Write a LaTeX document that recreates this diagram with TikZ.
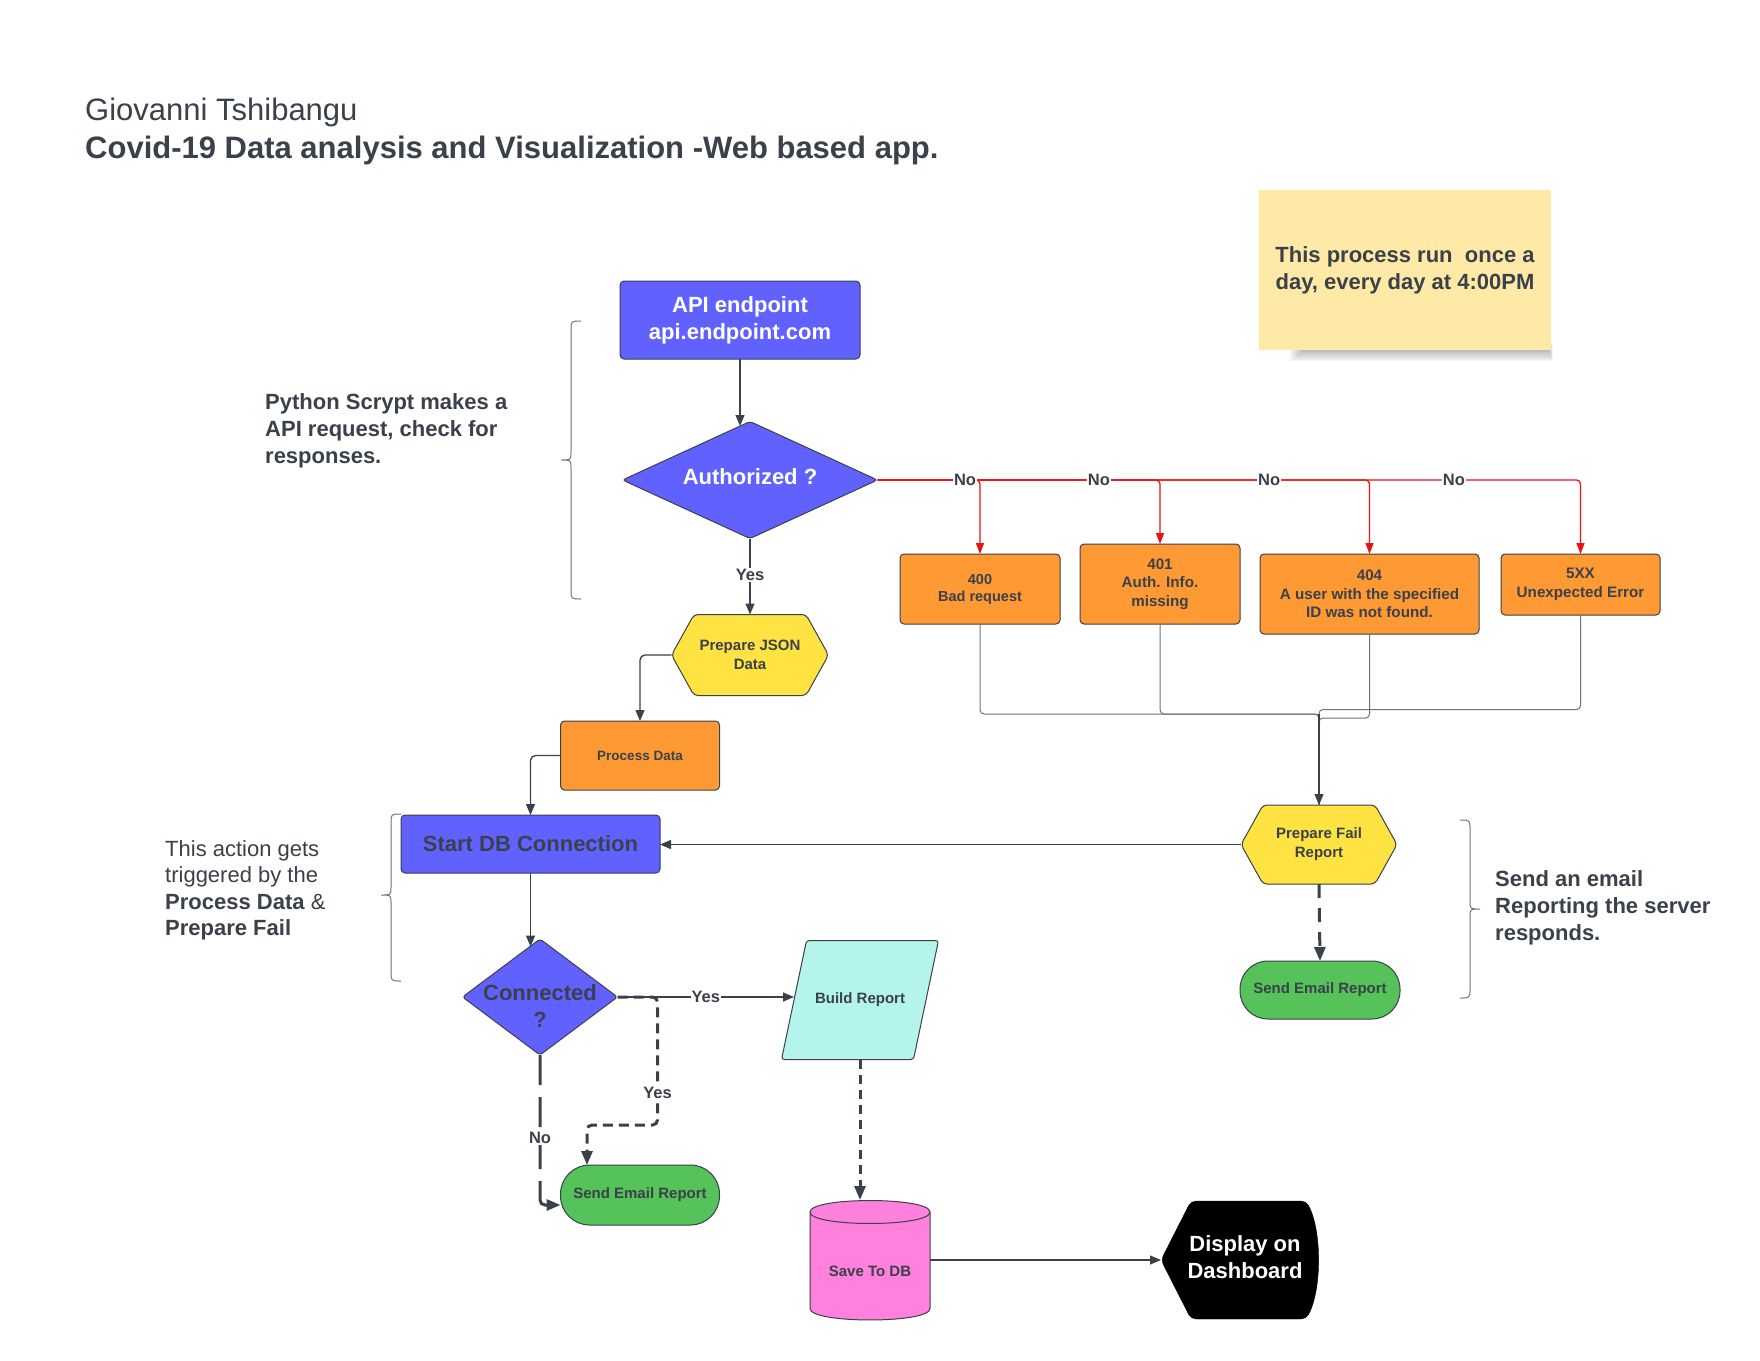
\documentclass[tikz,border=0pt]{standalone}
\usepackage{fontspec}
\setmainfont{Liberation Sans}
\usetikzlibrary{arrows.meta,shapes.geometric}
\definecolor{ink}{HTML}{3A414A}
\definecolor{wire}{HTML}{6E737B}
\definecolor{lucblue}{HTML}{6161FF}
\definecolor{lucorange}{HTML}{FF9933}
\definecolor{lucyellow}{HTML}{FFE342}
\definecolor{lucgreen}{HTML}{55C25A}
\definecolor{luccyan}{HTML}{B4F4EA}
\definecolor{lucpink}{HTML}{FF80DD}
\definecolor{notepaper}{HTML}{FEE9A6}
\definecolor{lucred}{HTML}{E81313}
\newcommand\fsz[2]{\fontsize{#1}{#2}\selectfont}

\begin{document}
\begin{tikzpicture}[x=1pt, y=-1pt,
  every node/.style={text=ink},
  plain/.style={inner sep=0pt, outer sep=0pt, align=center},
  box/.style={plain, draw=ink, line width=1pt, rounded corners=4pt},
  diam/.style={diamond, plain, draw=ink, line width=1pt, fill=lucblue, rounded corners=3pt},
  outline/.style={draw=ink, line width=1pt, rounded corners=4pt},
  tip/.style={-{Triangle[length=11pt,width=9pt]}},
  bigtip/.style={-{Triangle[length=14pt,width=11pt]}},
  conn/.style={draw=ink, line width=1.3pt, tip},
  wirel/.style={draw=wire, line width=1pt, rounded corners=4pt},
  redarr/.style={draw=lucred, line width=1.3pt, rounded corners=4pt, -{Triangle[length=11pt,width=8pt]}},
  thickdash/.style={draw=ink, line width=3pt, bigtip, rounded corners=5pt},
  lbl/.style={fill=white, inner sep=1pt, font=\bfseries\fsz{16.5}{19}},
  brace/.style={draw=wire, line width=1pt},
  big/.style={font=\bfseries\fsz{22}{27}},
  sidenote/.style={anchor=west, align=left, inner sep=0pt},
]
\fill[white] (0,0) rectangle (1760,1360);
\useasboundingbox (0,0) rectangle (1760,1360);

% ---------- heading ----------
\node[anchor=base west, inner sep=0pt, font=\fsz{31}{36}] (author) at (85,120) {Giovanni Tshibangu};
\node[anchor=base west, inner sep=0pt, font=\bfseries\fsz{31}{36}] (title) at (85,158) {Covid-19 Data analysis and Visualization -Web based app.};

% ---------- sticky note ----------
\foreach \k in {1,...,8}
  \fill[black, opacity=0.04] ({1288+2*\k},344) rectangle ({1553-0.5*\k},{363-1.6*\k});
\node[plain, fill=notepaper, minimum width=292pt, minimum height=160pt,
      font=\bfseries\fsz{22}{27}] (note) at (1405,270)
  {This process run\ \ once a\\day, every day at 4:00PM};

% ---------- shape outlines ----------
\filldraw[outline, fill=lucyellow] (671.5,655) -- (694,614.5) -- (806,614.5) -- (828.5,655) -- (806,695.5) -- (694,695.5) -- cycle;
\filldraw[outline, fill=lucyellow] (1241,844.5) -- (1263,805) -- (1375,805) -- (1397,844.5) -- (1375,884) -- (1263,884) -- cycle;
\filldraw[outline, rounded corners=3pt, fill=luccyan] (806.5,940.5) -- (938.5,940.5) -- (913.5,1059.5) -- (781.5,1059.5) -- cycle;
\filldraw[draw=ink, line width=1pt, fill=lucpink] (810,1212) -- (810,1308.5)
  .. controls (810,1323.8) and (930,1323.8) .. (930,1308.5) -- (930,1212)
  .. controls (930,1196.7) and (810,1196.7) .. (810,1212) -- cycle;
\draw[ink, line width=1pt] (810,1212) .. controls (810,1227.3) and (930,1227.3) .. (930,1212);
\filldraw[draw=black, fill=black, rounded corners=5pt] (1161,1260) -- (1191,1201) -- (1306,1201)
  .. controls (1322,1230) and (1322,1290) .. (1306,1319) -- (1191,1319) -- cycle;

% ---------- nodes ----------
\node[box, fill=lucblue, text=white, minimum width=240pt, minimum height=78pt, big] (api) at (740,320) {API endpoint\\api.endpoint.com};
\node[diam, minimum width=255pt, minimum height=117pt] (auth) at (750,480) {};
\node[plain, text=white, big] (authtxt) at (750,477) {Authorized ?};
\node[plain, minimum width=157pt, minimum height=81pt, font=\bfseries\fsz{15}{19}] (pj) at (750,655) {Prepare JSON\\Data};
\node[box, fill=lucorange, minimum width=159pt, minimum height=69pt, font=\bfseries\fsz{13.5}{17}] (pd) at (640,755.5) {Process Data};
\node[box, fill=lucblue, minimum width=259pt, minimum height=58pt, big] (sdb) at (530.5,844) {Start DB Connection};
\node[diam, minimum width=155pt, minimum height=116pt] (conn) at (540,997) {};
\node[plain, font=\bfseries\fsz{22}{26.5}] (conntxt) at (540,1006) {Connected\\?};
\node[plain, minimum width=132pt, minimum height=119pt, font=\bfseries\fsz{15}{18}] (br) at (860,1000) {Build Report};
\node[box, fill=lucgreen, rounded corners=29pt, minimum width=159pt, minimum height=60pt, font=\bfseries\fsz{15}{18}] (se1) at (640,1195) {Send Email Report};
\node[plain, minimum width=120pt, minimum height=120pt] (db) at (870,1260) {};
\node[plain, font=\bfseries\fsz{15}{18}] (dbtxt) at (870,1271) {Save To DB};
\node[plain, minimum width=158pt, minimum height=118pt] (disp) at (1240,1260) {};
\node[plain, text=white, big] (disptxt) at (1245,1257) {Display on\\Dashboard};

\node[box, fill=lucorange, minimum width=160pt, minimum height=70pt, font=\bfseries\fsz{14.5}{17}] (e400) at (980,589) {400\\Bad request};
\node[box, fill=lucorange, minimum width=160pt, minimum height=80pt, font=\bfseries\fsz{15.2}{18.5}] (e401) at (1160,584) {401\\Auth. Info.\\missing};
\node[box, fill=lucorange, minimum width=219pt, minimum height=80pt, font=\bfseries\fsz{15.2}{18.5}] (e404) at (1369.5,594) {404\\A user with the specified\\ID was not found.};
\node[box, fill=lucorange, minimum width=159pt, minimum height=61pt, font=\bfseries\fsz{15.2}{18.5}] (e5xx) at (1580.5,584.5) {5XX\\Unexpected Error};

\node[plain, minimum width=156pt, minimum height=79pt, font=\bfseries\fsz{15}{19}] (pf) at (1319,844.5) {Prepare Fail\\Report};
\node[box, fill=lucgreen, rounded corners=28pt, minimum width=160pt, minimum height=58pt, font=\bfseries\fsz{15}{18}] (se2) at (1320,990) {Send Email Report};

% ---------- side notes ----------
\node[sidenote, font=\bfseries\fsz{22}{27}] (pynote) at (265,431)
  {Python Scrypt makes a\\API request, check for\\responses.};
\node[sidenote, font=\fsz{22}{26.5}] (dbnote) at (165,890.5)
  {This action gets\\triggered by the\\\textbf{Process Data} \&\\\textbf{Prepare Fail}};
\node[sidenote, font=\bfseries\fsz{22}{27}] (mailnote) at (1495,908)
  {Send an email\\Reporting the server\\responds.};

% ---------- braces ----------
\draw[brace] (581,321) .. controls (571,321) .. (571,331) -- (571,452)
  .. controls (571,460) .. (561,460) .. controls (571,460) .. (571,468)
  -- (571,589) .. controls (571,599) .. (581,599);
\draw[brace] (401,814) .. controls (391,814) .. (391,824) -- (391,887)
  .. controls (391,895) .. (381,895) .. controls (391,895) .. (391,903)
  -- (391,971) .. controls (391,981) .. (401,981);
\draw[brace] (1460,820) .. controls (1470,820) .. (1470,830) -- (1470,901)
  .. controls (1470,909) .. (1480,909) .. controls (1470,909) .. (1470,917)
  -- (1470,988) .. controls (1470,998) .. (1460,998);

% ---------- connectors ----------
\draw[conn] (api.south) -- ([yshift=-4.5pt]api.south |- auth.north);
\draw[conn] (auth.south) -- node[lbl, pos=0.48] {Yes} (pj.north);
\draw[conn, rounded corners=5pt] (pj.west) -| (pd.north);
\draw[conn, rounded corners=5pt] (pd.west) -| (sdb.north);
\draw[conn] (sdb.south) -- ([yshift=-7.5pt]sdb.south |- conn.north);

\draw[thickdash, dash pattern=on 10pt off 6pt] (conn.east) -| node[lbl, pos=0.875] {Yes} ++(40,128) -| ([xshift=-53pt]se1.north);
\draw[conn] (conn.east) -- node[lbl, pos=0.5] {Yes} (conn.east -| br.west);
\draw[thickdash, dash pattern=on 30pt off 12pt] (conn.south) |- node[lbl, pos=0.277] {No} ([yshift=-10pt]se1.west);
\draw[thickdash, dash pattern=on 9pt off 6pt] (br.south) -- (br.south |- db.north);
\draw[conn] (db.east) -- (disp.west);

% error responses
\draw[redarr] (auth.east) -| node[lbl, pos=0.41] {No} (e5xx.north);
\draw[redarr] (auth.east) -| node[lbl, pos=0.398] {No} (e404.north);
\draw[redarr] (auth.east) -| node[lbl, pos=0.392] {No} (e401.north);
\draw[redarr] (auth.east) -| node[lbl, pos=0.427] {No} (e400.north);

\draw[wirel] (e400.south) -- ++(0,90) -| (pf.north);
\draw[wirel] (e401.south) -- ++(0,90) -| (pf.north);
\draw[wirel] (e404.south) -- ++(0,84) -| (pf.north);
\draw[wirel] (e5xx.south) -- ++(0,94.5) -| (pf.north);
\draw[conn] ([yshift=91pt]pf.north) -- (pf.north);

\draw[conn] (pf.west) -- (pf.west -| sdb.east);
\draw[thickdash, dash pattern=on 14pt off 10pt] (pf.south) -- (se2.north);
\end{tikzpicture}
\end{document}
